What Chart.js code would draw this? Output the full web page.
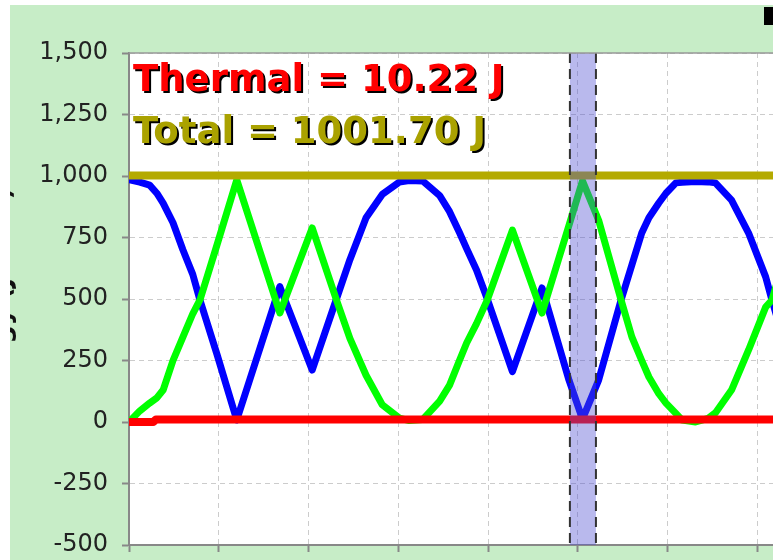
<!DOCTYPE html>
<html>
<head>
<meta charset="utf-8">
<script src="https://cdn.jsdelivr.net/npm/chart.js@4"></script>
<style>
  html, body { margin: 0; padding: 0; background: #fff; overflow: hidden; width: 773px; height: 560px; }
  #panel { position: absolute; left: 10px; top: 5px; width: 800px; height: 600px; background: #c7edc7; overflow: hidden; }
  #energyChart { position: absolute; left: -20px; top: 0; }
  #closeBox { position: absolute; left: 764px; top: 7px; width: 14px; height: 18px; background: #000; }
</style>
</head>
<body>
<div id="panel"><canvas id="energyChart" width="879" height="600"></canvas></div>
<div id="closeBox"></div>
<script>
// time samples (one grid step = one unit) and energies
const times = [0, 0.12, 0.23, 0.31, 0.38, 0.49, 0.6, 0.71, 0.79, 0.98, 1.2, 1.68, 2.04, 2.31, 2.46, 2.64, 2.82, 3.01, 3.12, 3.27,
    3.46, 3.57, 3.68, 3.76, 3.87, 3.99, 4.27, 4.6, 4.9, 5.05, 5.23, 5.48, 5.6, 5.71, 5.79, 5.9, 5.98, 6.09, 6.16, 6.31,
    6.45, 6.53, 6.71, 6.9, 7.09, 7.16, 7.35];
const kinetic = [985, 975, 963, 930, 890, 810, 700, 600, 496, 275, 8, 550, 211, 500, 660, 830, 925, 975, 982, 980,
    920, 855, 770, 705, 618, 500, 205, 545, 170, 12, 170, 496, 638, 768, 830, 890, 930, 972, 975, 978,
    976, 972, 902, 768, 590, 496, 260];
const potential = [0, 45, 77, 98, 130, 250, 345, 440, 496, 720, 984, 443, 789, 496, 340, 190, 70, 16, 6, 10,
    85, 150, 250, 321, 400, 496, 780, 443, 800, 980, 820, 496, 346, 250, 183, 115, 77, 35, 8, 0,
    15, 37, 130, 293, 467, 496, 730];
const thermalTimes = [0, 0.27, 0.3, 8];
const thermal = [0, 0, 10.22, 10.22];
const totalTimes = [0, 8];
const total = [1001.7, 1001.7];

const bandStart = 4.91;
const bandEnd = 5.2;
const thermalLabel = 'Thermal = 10.22 J';
const totalLabel = 'Total = 1001.70 J';

function toPoints(xs, ys) {
    return xs.map((x, i) => ({ x: x, y: ys[i] }));
}

const plotDecor = {
    id: 'plotDecor',
    beforeDatasetsDraw(chart) {
        const { ctx, chartArea } = chart;
        ctx.save();
        ctx.fillStyle = '#ffffff';
        ctx.globalCompositeOperation = 'destination-over';
        ctx.fillRect(chartArea.left, chartArea.top, chartArea.right - chartArea.left, chartArea.bottom - chartArea.top);
        ctx.restore();
    },
    afterDatasetsDraw(chart) {
        const { ctx, chartArea, scales } = chart;
        const x1 = scales.x.getPixelForValue(bandStart);
        const x2 = scales.x.getPixelForValue(bandEnd);
        ctx.save();
        ctx.fillStyle = 'rgba(80, 80, 210, 0.4)';
        ctx.fillRect(x1, chartArea.top, x2 - x1, chartArea.bottom - chartArea.top);
        ctx.strokeStyle = '#333';
        ctx.lineWidth = 2;
        ctx.setLineDash([10, 6]);
        [x1, x2].forEach(x => {
            ctx.beginPath();
            ctx.moveTo(x, chartArea.top);
            ctx.lineTo(x, chartArea.bottom);
            ctx.stroke();
        });
        ctx.setLineDash([]);
        ctx.strokeStyle = '#999';
        ctx.lineWidth = 1.5;
        ctx.beginPath();
        ctx.moveTo(chartArea.left, chartArea.top);
        ctx.lineTo(chartArea.right, chartArea.top);
        ctx.stroke();

        // value read-outs in the top left corner, with a dark drop shadow
        ctx.font = 'bold 37px "DejaVu Sans"';
        ctx.textBaseline = 'alphabetic';
        const labels = [[thermalLabel, '#ff0000', 38], [totalLabel, '#aaa200', 90]];
        labels.forEach(([text, color, dy]) => {
            ctx.fillStyle = '#000';
            ctx.fillText(text, chartArea.left + 6, chartArea.top + dy + 2);
            ctx.fillStyle = color;
            ctx.fillText(text, chartArea.left + 4, chartArea.top + dy);
        });
        ctx.restore();
    }
};

const ctx = document.getElementById('energyChart').getContext('2d');
new Chart(ctx, {
    type: 'line',
    data: {
        datasets: [
            {
                label: 'Total',
                data: toPoints(totalTimes, total),
                borderColor: '#b4aa00',
                borderWidth: 8
            },
            {
                label: 'Thermal',
                data: toPoints(thermalTimes, thermal),
                borderColor: '#ff0000',
                borderWidth: 8
            },
            {
                label: 'Potential',
                data: toPoints(times, potential),
                borderColor: '#00ff00',
                borderWidth: 7
            },
            {
                label: 'Kinetic',
                data: toPoints(times, kinetic),
                borderColor: '#0000ff',
                borderWidth: 7
            }
        ]
    },
    options: {
        responsive: false,
        animation: false,
        layout: { padding: { left: 0, top: 48, right: 20, bottom: 0 } },
        elements: {
            point: { radius: 0 },
            line: { tension: 0, borderJoinStyle: 'round', borderCapStyle: 'round' }
        },
        plugins: {
            legend: { display: false },
            tooltip: { enabled: false }
        },
        scales: {
            x: {
                type: 'linear',
                min: 0,
                max: 8,
                ticks: { stepSize: 1, padding: 14, color: '#222', font: { family: 'DejaVu Sans', size: 24 } },
                grid: { color: '#cccccc', lineWidth: 1, tickLength: 7, tickColor: '#888', tickWidth: 2, tickBorderDash: [] },
                border: { color: '#888', width: 2, dash: [5, 4] },
                afterFit: axis => { axis.height = 60; }
            },
            y: {
                min: -500,
                max: 1500,
                ticks: {
                    stepSize: 250,
                    padding: 14,
                    color: '#222',
                    font: { family: 'DejaVu Sans', size: 24 },
                    callback: value => value.toLocaleString('en-US')
                },
                grid: { color: '#cccccc', lineWidth: 1, tickLength: 7, tickColor: '#888', tickWidth: 2, tickBorderDash: [] },
                border: { color: '#888', width: 2, dash: [5, 4] },
                title: {
                    display: true,
                    text: 'Energy (Joules)',
                    color: '#111',
                    font: { family: 'DejaVu Sans', size: 26, weight: 'bold' },
                    padding: { top: -2, bottom: 0 }
                },
                afterFit: axis => { axis.width = 139; }
            }
        }
    },
    plugins: [plotDecor]
});
</script>
</body>
</html>
